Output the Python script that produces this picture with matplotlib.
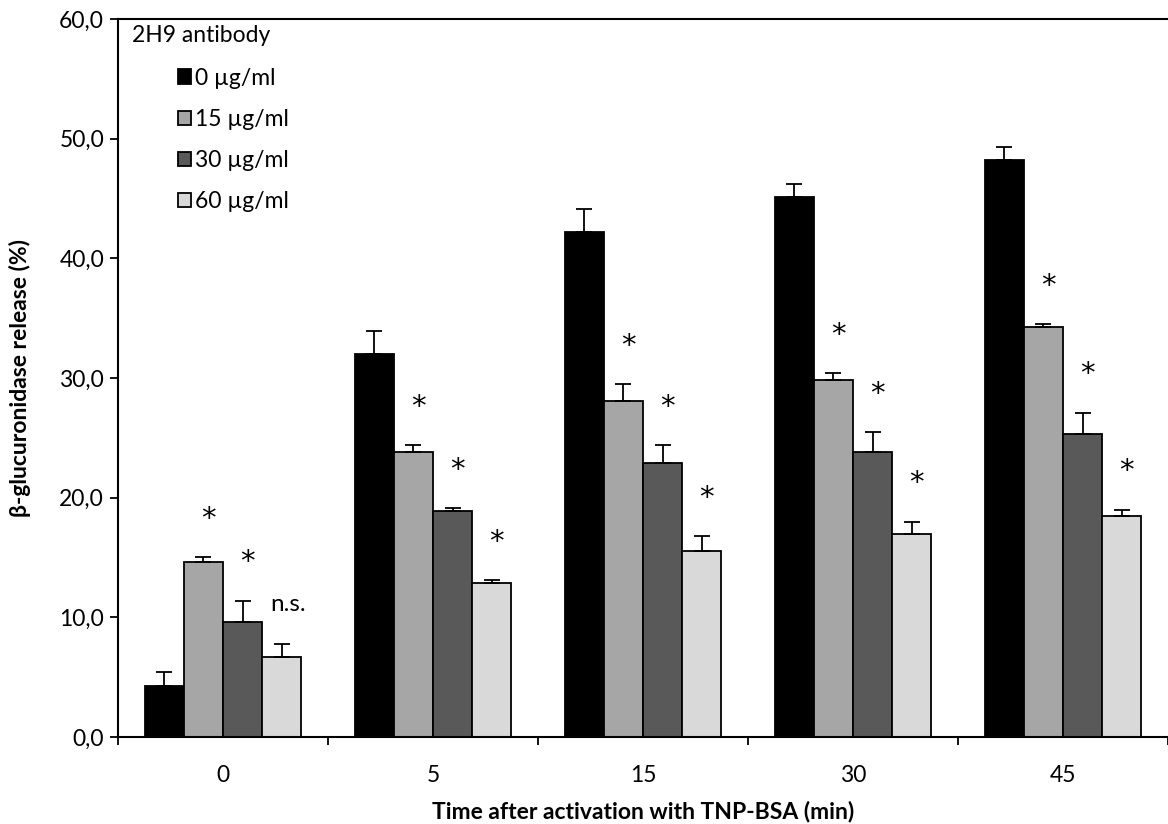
"""
Beta-glucuronidase release after TNP-BSA activation, 2H9 antibody doses
"""

import numpy as np
import matplotlib.pyplot as plt

plt.rcParams["font.family"] = ["Lato", "DejaVu Sans"]
FONT_SIZE = 16.5

times = ["0", "5", "15", "30", "45"]
doses = ["0 µg/ml", "15 µg/ml", "30 µg/ml", "60 µg/ml"]
colors = ["#000000", "#a6a6a6", "#595959", "#d9d9d9"]

release_0 = [4.3, 32.0, 42.2, 45.1, 48.2]
release_15 = [14.6, 23.8, 28.1, 29.8, 34.3]
release_30 = [9.6, 18.9, 22.9, 23.8, 25.3]
release_60 = [6.7, 12.9, 15.5, 17.0, 18.5]

err_0 = [1.1, 1.9, 1.9, 1.1, 1.1]
err_15 = [0.4, 0.6, 1.4, 0.6, 0.2]
err_30 = [1.8, 0.2, 1.5, 1.7, 1.8]
err_60 = [1.1, 0.2, 1.3, 1.0, 0.5]

# significance labels for the 15/30/60 series
sig_15 = ["*", "*", "*", "*", "*"]
sig_30 = ["*", "*", "*", "*", "*"]
sig_60 = ["n.s.", "*", "*", "*", "*"]

values = [release_0, release_15, release_30, release_60]
errors = [err_0, err_15, err_30, err_60]
sigs = [None, sig_15, sig_30, sig_60]

fig = plt.figure(figsize=(11.68, 8.24), dpi=100)
ax = fig.add_axes([0.101, 0.1056, 0.899, 0.8714])

x = np.arange(len(times))
width = 0.186
for i, (vals, errs, sig) in enumerate(zip(values, errors, sigs)):
    pos = x - 1.5 * width + i * width
    ax.bar(
        pos, vals, width, color=colors[i], edgecolor="black", linewidth=1.3,
        label=doses[i], zorder=2,
    )
    ax.errorbar(
        pos, vals, yerr=[np.zeros(len(errs)), errs], fmt="none",
        ecolor="black", elinewidth=1.3, capsize=6, capthick=1.3, zorder=3,
    )
    if sig is None:
        continue
    for p, v, e, s in zip(pos, vals, errs, sig):
        if s == "*":
            ax.text(p + 0.025, v + e + 3.2, s, ha="center", va="center",
                    fontsize=21, family=["DejaVu Sans"])
        else:
            ax.text(p + 0.03, v + e + 3.3, s, ha="center", va="center",
                    fontsize=FONT_SIZE + 1)

ax.set_xlim(-0.5, len(times) - 0.5)
ax.set_ylim(0, 60)
ax.set_yticks(np.arange(0, 61, 10))
ax.set_yticklabels([f"{v:.1f}".replace(".", ",") for v in np.arange(0, 61, 10)])
ax.set_xticks(x)
ax.set_xticklabels(times)
ax.set_xticks(np.arange(-0.5, len(times), 1), minor=True)
ax.tick_params(axis="x", which="major", length=0, pad=20, labelsize=FONT_SIZE)
ax.tick_params(axis="x", which="minor", length=6, width=1.3, direction="out")
ax.tick_params(axis="y", length=6, width=1.3, labelsize=FONT_SIZE, pad=4)

for side in ["left", "bottom", "top"]:
    ax.spines[side].set_linewidth(1.5)
ax.spines["right"].set_visible(False)

ax.set_xlabel("Time after activation with TNP-BSA (min)", fontsize=FONT_SIZE,
              fontweight="bold", labelpad=11)
ax.set_ylabel("β-glucuronidase release (%)", fontsize=FONT_SIZE,
              fontweight="bold", labelpad=20)

# legend title sits left of the indented entries
ax.text(0.013, 0.991, "2H9 antibody", transform=ax.transAxes, ha="left",
        va="top", fontsize=FONT_SIZE)
ax.legend(
    loc="upper left", bbox_to_anchor=(0.048, 0.945), frameon=False,
    fontsize=FONT_SIZE, handlelength=0.58, handleheight=0.58,
    handletextpad=0.2, labelspacing=0.88, borderaxespad=0,
)

plt.savefig("out.png", dpi=100)
plt.close()
